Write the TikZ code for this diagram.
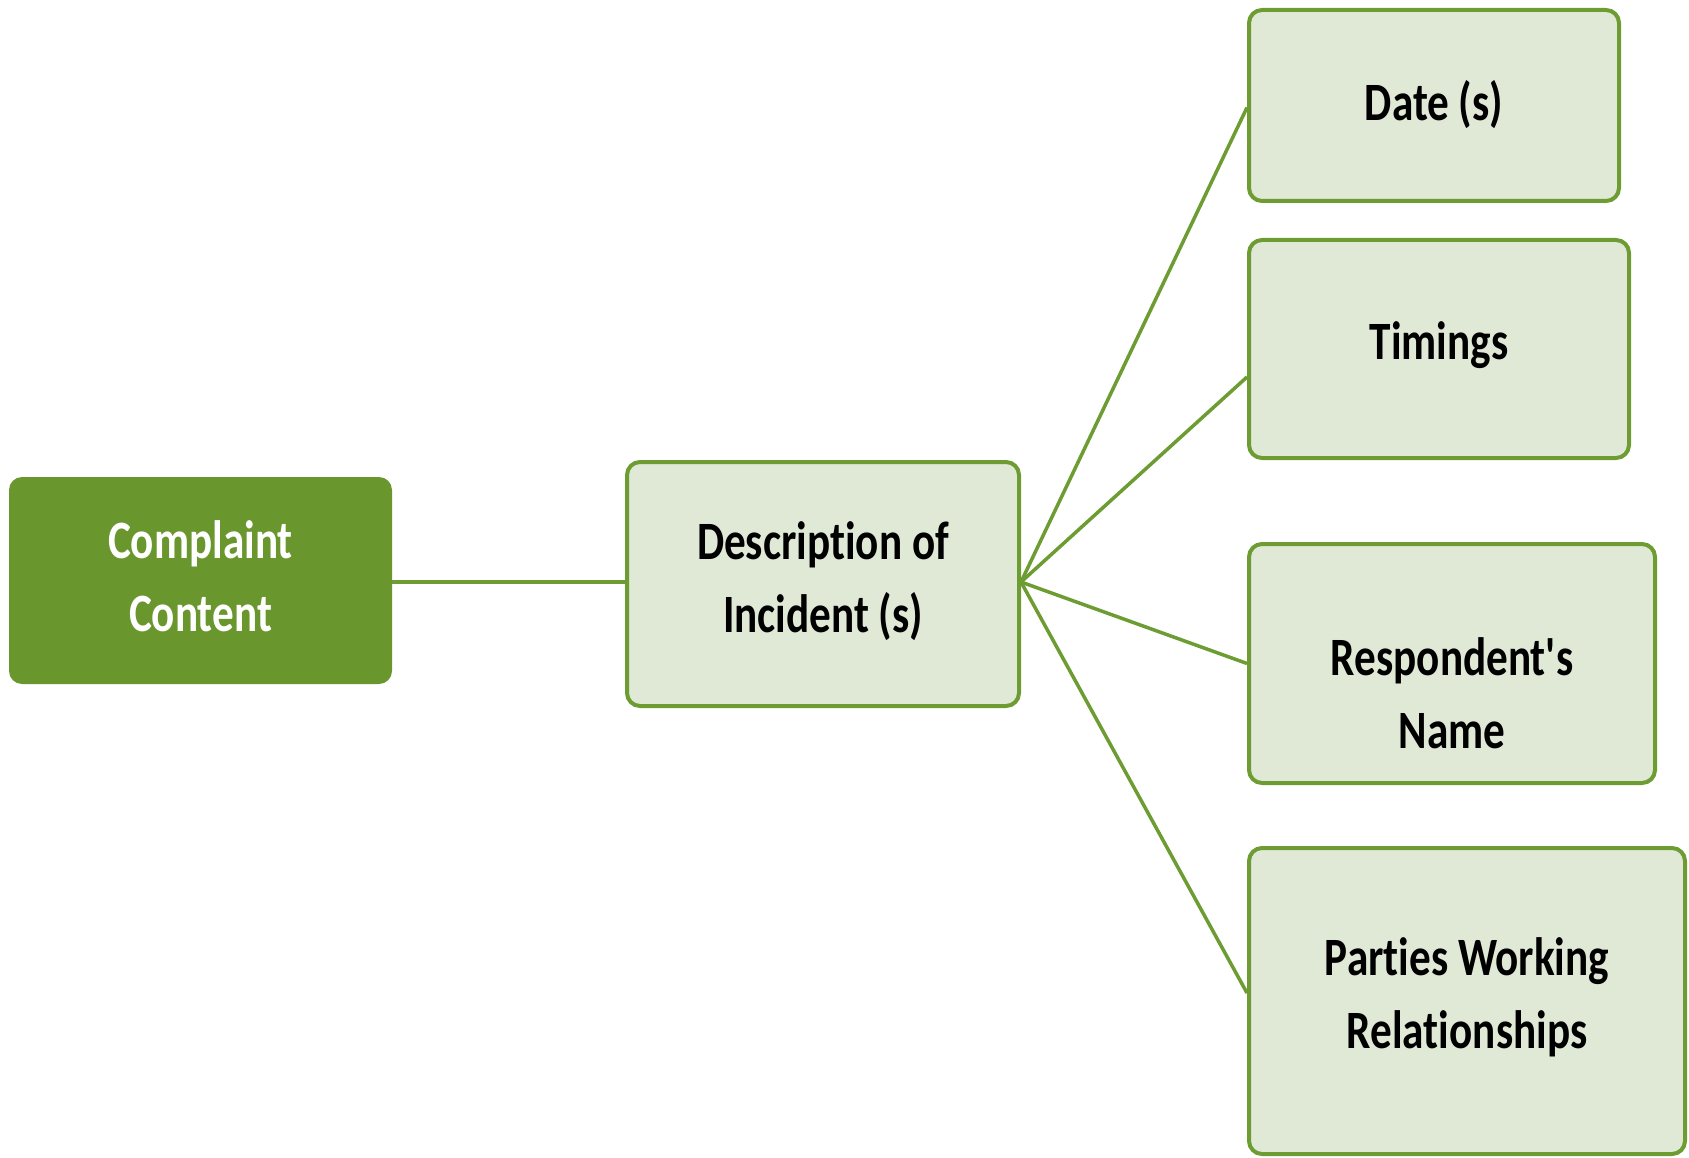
\documentclass[tikz,border=0pt]{standalone}
\usepackage{fontspec}
\setmainfont{Carlito}[Ligatures={NoCommon}]
\usepackage{graphicx}
\definecolor{darkg}{HTML}{6A962E}
\definecolor{lightg}{HTML}{E0E8D6}
\definecolor{lineg}{HTML}{6C9C32}
\newcommand{\boxtext}[1]{\scalebox{0.8}[1]{\fontsize{54}{73}\selectfont\bfseries\begin{tabular}{@{}c@{}}#1\end{tabular}}}
\tikzset{
  lbox/.style={draw=lineg, line width=4pt, fill=lightg, rounded corners=13pt, inner sep=0pt},
  dbox/.style={fill=darkg, rounded corners=13pt, inner sep=0pt},
  txt/.style={inner sep=0pt, text=black},
  wtxt/.style={inner sep=0pt, text=white},
  conn/.style={draw=lineg, line width=3.5pt}
}
\begin{document}
\begin{tikzpicture}[x=1pt,y=-1pt]
\useasboundingbox (0,0) rectangle (1689,1158);
\node[dbox, minimum width=383pt, minimum height=207pt] (complaint) at (200.5,580.5) {};
\node[lbox, minimum width=392pt, minimum height=244pt] (desc) at (823,584) {};
\node[lbox, minimum width=370pt, minimum height=191pt] (date) at (1434,105.5) {};
\node[lbox, minimum width=380pt, minimum height=218pt] (timings) at (1439,349) {};
\node[lbox, minimum width=406pt, minimum height=239pt] (resp) at (1452,663.5) {};
\node[lbox, minimum width=436pt, minimum height=306pt] (parties) at (1467,1001) {};

\node[wtxt] (complaintt) at (complaint.center) {\boxtext{Complaint\\Content}};
\node[txt] (desct) at ([yshift=3pt]desc.center) {\boxtext{Description of\\Incident (s)}};
\node[txt] (datet) at (date.center) {\boxtext{Date (s)}};
\node[txt] (timingst) at ([yshift=4pt]timings.center) {\boxtext{Timings}};
\node[txt] (respt) at ([yshift=-34pt]resp.center) {\boxtext{Respondent\textquotesingle s\\Name}};
\node[txt] (partiest) at ([yshift=4pt]parties.center) {\boxtext{Parties Working\\Relationships}};

\coordinate (hub) at ([yshift=2pt]desc.east);
\coordinate (tin) at ([yshift=-28pt]timings.west);
\coordinate (pin) at ([yshift=8pt]parties.west);
\draw[conn] (complaint.east |- hub) -- (desc.west |- hub);
\draw[conn] (hub) -- ([yshift=-2pt]date.west);
\draw[conn] (hub) -- (tin);
\draw[conn] (hub) -- (resp.west);
\draw[conn] (hub) -- (pin);
\end{tikzpicture}
\end{document}
